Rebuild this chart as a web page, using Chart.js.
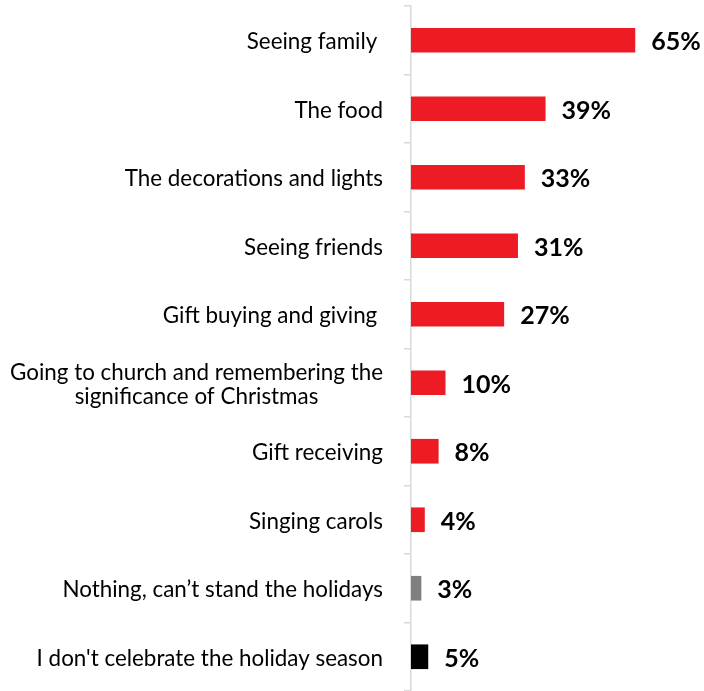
<!DOCTYPE html>
<html>
<head>
<meta charset="utf-8">
<script src="https://cdn.jsdelivr.net/npm/chart.js@4/dist/chart.umd.min.js"></script>
<style>
    html, body { margin: 0; padding: 0; background: #fff; }
    #wrap { position: relative; width: 704px; height: 691px; }
</style>
</head>
<body>
<div id="wrap"><canvas id="favChart"></canvas></div>
<script>
// favourite things about the holiday season (% of respondents)
const categories = [
    'Seeing family ',
    'The food',
    'The decorations and lights',
    'Seeing friends',
    'Gift buying and giving ',
    ['Going to church and remembering the', 'significance of Christmas'],
    'Gift receiving',
    'Singing carols',
    'Nothing, can\u2019t stand the holidays',
    "I don't celebrate the holiday season"
];
const shares = [65, 39, 33, 31, 27, 10, 8, 4, 3, 5];
const barColors = ['#ED1C24', '#ED1C24', '#ED1C24', '#ED1C24', '#ED1C24',
    '#ED1C24', '#ED1C24', '#ED1C24', '#808080', '#000000'];

const LABEL_FONT = '22.4px Lato, "Open Sans", sans-serif';
const VALUE_FONT = 'bold 25px Lato, "Open Sans", sans-serif';
const LABEL_RIGHT = 383;   // right edge of category text
const AXIS_X = 411;        // where the category axis sits

// category names, right aligned; wrapped names are centred on their widest line
const categoryLabels = {
    id: 'categoryLabels',
    afterDraw(chart) {
        const { ctx } = chart;
        const y = chart.scales.y;
        ctx.save();
        ctx.font = LABEL_FONT;
        ctx.fillStyle = '#000';
        ctx.textBaseline = 'middle';
        categories.forEach((label, i) => {
            const cy = y.getPixelForValue(i) + 2;
            if (Array.isArray(label)) {
                const lineH = 24;
                const maxW = Math.max(...label.map(l => ctx.measureText(l).width));
                const cx = LABEL_RIGHT - maxW / 2;
                ctx.textAlign = 'center';
                label.forEach((line, k) => {
                    ctx.fillText(line, cx, cy + (k - (label.length - 1) / 2) * lineH);
                });
            } else {
                ctx.textAlign = 'right';
                ctx.fillText(label, LABEL_RIGHT, cy);
            }
        });
        ctx.restore();
    }
};

// percentage at the end of each bar
const valueLabels = {
    id: 'valueLabels',
    afterDatasetsDraw(chart) {
        const { ctx } = chart;
        const meta = chart.getDatasetMeta(0);
        ctx.save();
        ctx.font = VALUE_FONT;
        ctx.fillStyle = '#000';
        ctx.textAlign = 'left';
        ctx.textBaseline = 'middle';
        meta.data.forEach((bar, i) => {
            ctx.fillText(shares[i] + '%', bar.x + 16, bar.y + 2);
        });
        ctx.restore();
    }
};

new Chart(document.getElementById('favChart'), {
    type: 'bar',
    data: {
        labels: categories,
        datasets: [{
            data: shares,
            backgroundColor: barColors,
            borderWidth: 0,
            barPercentage: 0.36,
            categoryPercentage: 1
        }]
    },
    options: {
        indexAxis: 'y',
        responsive: true,
        maintainAspectRatio: false,
        animation: false,
        layout: { padding: { top: 6, right: 17, bottom: -3, left: 0 } },
        plugins: {
            legend: { display: false },
            tooltip: { enabled: false }
        },
        scales: {
            x: {
                display: false,
                min: 0,
                max: 80
            },
            y: {
                ticks: { display: false },
                grid: {
                    offset: true,
                    drawOnChartArea: false,
                    tickLength: 7,
                    color: '#D9D9D9',
                    lineWidth: 1.5
                },
                border: { color: '#D9D9D9', width: 1.5 },
                afterFit(scale) { scale.width = AXIS_X; }
            }
        }
    },
    plugins: [categoryLabels, valueLabels]
});
</script>
</body>
</html>
